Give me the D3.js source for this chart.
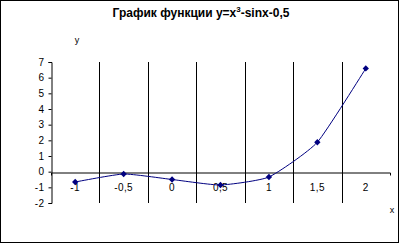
<!DOCTYPE html>
<html>
<head>
<meta charset="utf-8">
<script src="https://cdn.jsdelivr.net/npm/d3@7"></script>
<style>
  body { margin: 0; background: #fff; }
  svg { display: block; font-family: "Liberation Sans", Arial, sans-serif; }
</style>
</head>
<body>
<svg id="chart"></svg>
<script>
const categories = ["-1", "-0,5", "0", "0,5", "1", "1,5", "2"];
const values = [-0.66, -0.15, -0.5, -0.85, -0.34, 1.88, 6.59];
const yTicks = [-2, -1, 0, 1, 2, 3, 4, 5, 6, 7];

const W = 400, H = 244;
const plot = { left: 51, top: 62, right: 390, bottom: 203 };

const svg = d3.select("#chart")
    .attr("width", W)
    .attr("height", H);

svg.append("rect")
    .attr("x", 0.5).attr("y", 0.5)
    .attr("width", W - 2).attr("height", H - 2)
    .attr("fill", "#fff")
    .attr("stroke", "#000");

const x = d3.scaleBand()
    .domain(categories)
    .range([plot.left, plot.right])
    .padding(0);

const y = d3.scaleLinear()
    .domain([d3.min(yTicks), d3.max(yTicks)])
    .range([plot.bottom, plot.top]);

// vertical gridlines at category boundaries
svg.append("g")
    .selectAll("line")
    .data(categories.slice(1))
    .join("line")
    .attr("x1", d => Math.round(x(d)) + 0.5)
    .attr("x2", d => Math.round(x(d)) + 0.5)
    .attr("y1", plot.top)
    .attr("y2", plot.bottom)
    .attr("stroke", "#000");

// y axis
const yAxis = svg.append("g")
    .attr("transform", `translate(${plot.left + 0.5},0)`)
    .call(d3.axisLeft(y)
        .tickValues(yTicks)
        .tickSize(3)
        .tickPadding(4)
        .tickFormat(d => String(d)));
yAxis.selectAll("text").style("font-size", "10px").style("letter-spacing", "0.4px").attr("fill", "#000");
yAxis.select(".domain").attr("stroke", "#000");

// x axis at y = 0
const xAxis = svg.append("g")
    .attr("transform", `translate(0,${Math.round(y(0)) + 0.5})`)
    .call(d3.axisBottom(x)
        .tickSizeInner(0)
        .tickSizeOuter(3)
        .tickPadding(11));
xAxis.selectAll("text").style("font-size", "10px").style("letter-spacing", "0.4px").attr("fill", "#000");
xAxis.select(".domain").attr("stroke", "#000");

// series
const pts = categories.map((c, i) => ({ c, v: values[i] }));

const line = d3.line()
    .x(d => x(d.c) + x.bandwidth() / 2)
    .y(d => y(d.v))
    .curve(d3.curveCardinal.tension(0.5));

svg.append("path")
    .datum(pts)
    .attr("d", line)
    .attr("fill", "none")
    .attr("stroke", "#000080")
    .attr("stroke-width", 1);

svg.append("g")
    .selectAll("path")
    .data(pts)
    .join("path")
    .attr("d", d3.symbol(d3.symbolSquare, 20))
    .attr("transform", d => `translate(${x(d.c) + x.bandwidth() / 2},${y(d.v)}) rotate(45)`)
    .attr("fill", "#000080");

// title
const title = svg.append("text")
    .attr("x", 201)
    .attr("y", 17)
    .attr("text-anchor", "middle")
    .style("font-size", "12px")
    .style("font-weight", "bold");
title.append("tspan").text("График функции y=x");
title.append("tspan").attr("dy", -5).style("font-size", "8px").text("3");
title.append("tspan").attr("dy", 5).text("-sinx-0,5");

// axis titles
svg.append("text")
    .attr("x", 77).attr("y", 43)
    .attr("text-anchor", "middle")
    .style("font-size", "9px")
    .text("y");

svg.append("text")
    .attr("x", 392).attr("y", 213)
    .attr("text-anchor", "middle")
    .style("font-size", "9px")
    .text("x");
</script>
</body>
</html>
